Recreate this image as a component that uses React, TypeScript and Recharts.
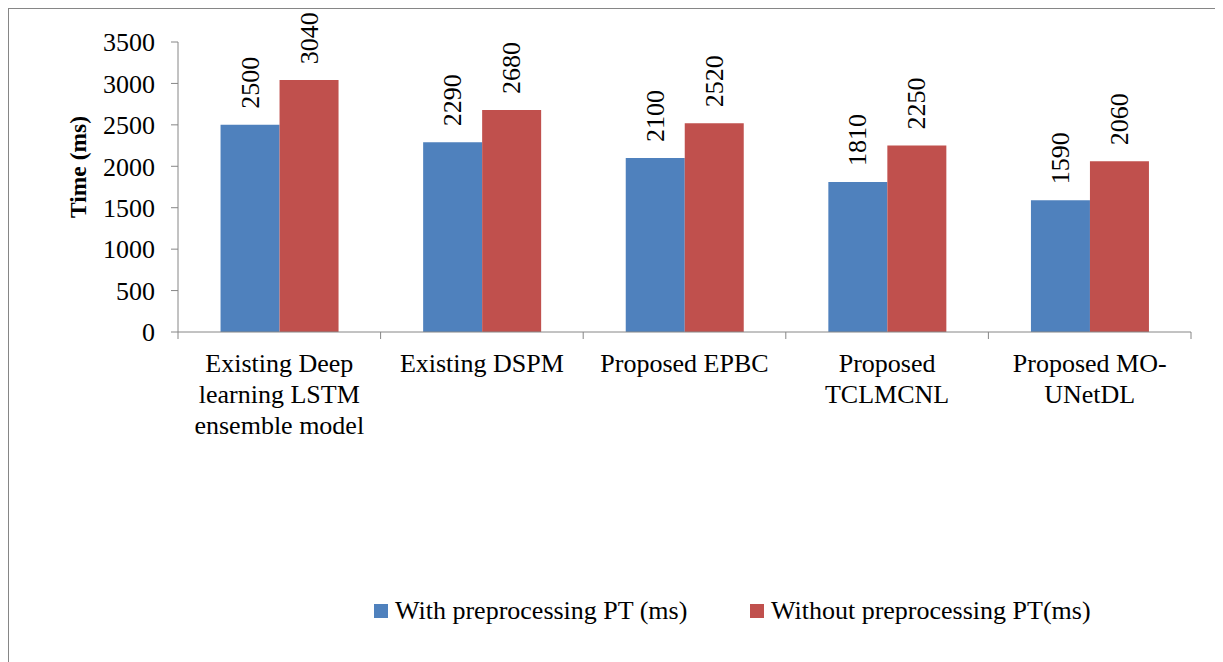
import { BarChart, Bar, XAxis, YAxis, Legend, LabelList, Label } from 'recharts'

const categories = [
  'Existing Deep\nlearning LSTM\nensemble model',
  'Existing DSPM',
  'Proposed EPBC',
  'Proposed\nTCLMCNL',
  'Proposed MO-\nUNetDL',
]
const withPreprocessing = [2500, 2290, 2100, 1810, 1590]
const withoutPreprocessing = [3040, 2680, 2520, 2250, 2060]
const yTicks = [0, 500, 1000, 1500, 2000, 2500, 3000, 3500]
const seriesNames = ['With preprocessing PT (ms)', 'Without preprocessing PT(ms)']
const seriesColors = ['#4F81BD', '#C0504D']

const FONT = '"Liberation Serif", "Times New Roman", serif'
const AXIS = '#868686'

const CHART_W = 1214
const CHART_H = 653
const Y_AXIS_W = 169
const MARGIN = { top: 33, right: 32, bottom: 210, left: 0 }
const BAND = (CHART_W - Y_AXIS_W - MARGIN.right - MARGIN.left) / categories.length

const data = categories.map((name, i) => ({
  name,
  withPre: withPreprocessing[i],
  withoutPre: withoutPreprocessing[i],
}))

// tick marks sit on the category boundaries, labels wrap on '\n'
function CategoryTick(props: any) {
  const { x, y, payload, index } = props
  const lines = String(payload.value).split('\n')
  const half = BAND / 2
  return (
    <g>
      <line x1={x - half} x2={x - half} y1={y} y2={y + 7} stroke={AXIS} />
      {index === categories.length - 1 && (
        <line x1={x + half} x2={x + half} y1={y} y2={y + 7} stroke={AXIS} />
      )}
      <text x={x} y={y + 40} textAnchor="middle" fontSize={26} fill="#000" fontFamily={FONT}>
        {lines.map((line, i) => (
          <tspan key={i} x={x} dy={i === 0 ? 0 : 31}>
            {line}
          </tspan>
        ))}
      </text>
    </g>
  )
}

function ValueLabel(props: any) {
  const { x, y, width, value } = props
  const cx = x + width / 2
  const cy = y - 16
  return (
    <text
      x={cx}
      y={cy}
      transform={`rotate(-90 ${cx} ${cy})`}
      textAnchor="start"
      dominantBaseline="central"
      fontSize={26}
      fontFamily={FONT}
      fill="#000"
    >
      {value}
    </text>
  )
}

function renderLegend() {
  return (
    <div style={{ display: 'flex', fontFamily: FONT, fontSize: 26, color: '#000', lineHeight: '30px' }}>
      {seriesNames.map((name, i) => (
        <div key={name} style={{ display: 'flex', alignItems: 'center', width: i === 0 ? 376 : 'auto' }}>
          <span style={{ width: 14, height: 14, background: seriesColors[i], marginRight: 7 }} />
          <span>{name}</span>
        </div>
      ))}
    </div>
  )
}

export default function App() {
  return (
    <div
      style={{
        boxSizing: 'border-box',
        width: 1215,
        height: 654,
        borderLeft: `1px solid ${AXIS}`,
        borderTop: `1px solid ${AXIS}`,
        background: '#fff',
      }}
    >
      <BarChart
        width={CHART_W}
        height={CHART_H}
        data={data}
        margin={MARGIN}
        barCategoryGap="21%"
        barGap={0}
      >
        <XAxis
          dataKey="name"
          interval={0}
          height={120}
          tickLine={false}
          tickSize={0}
          tickMargin={0}
          axisLine={{ stroke: AXIS }}
          tick={<CategoryTick />}
        />
        <YAxis
          width={Y_AXIS_W}
          domain={[0, 3500]}
          ticks={yTicks}
          interval={0}
          tickSize={7}
          tickMargin={16}
          axisLine={{ stroke: AXIS }}
          tickLine={{ stroke: AXIS }}
          tick={{ fill: '#000', fontSize: 26, fontFamily: FONT }}
        >
          <Label
            content={() => (
              <text
                x={69}
                y={158}
                transform="rotate(-90 69 158)"
                textAnchor="middle"
                dominantBaseline="central"
                fontSize={23.5}
                fontWeight="bold"
                fontFamily={FONT}
                fill="#000"
              >
                Time (ms)
              </text>
            )}
          />
        </YAxis>
        <Legend
          layout="horizontal"
          verticalAlign="middle"
          align="center"
          content={renderLegend}
          wrapperStyle={{ top: 587, left: 365, width: 900 }}
        />
        <Bar dataKey="withPre" name={seriesNames[0]} fill={seriesColors[0]} isAnimationActive={false}>
          <LabelList dataKey="withPre" content={<ValueLabel />} />
        </Bar>
        <Bar dataKey="withoutPre" name={seriesNames[1]} fill={seriesColors[1]} isAnimationActive={false}>
          <LabelList dataKey="withoutPre" content={<ValueLabel />} />
        </Bar>
      </BarChart>
    </div>
  )
}
